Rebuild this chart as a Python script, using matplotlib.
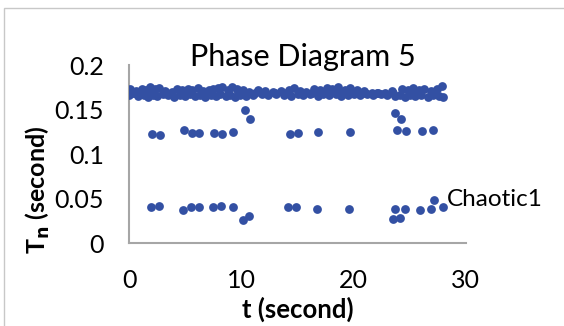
import matplotlib.pyplot as plt
from matplotlib.patches import Rectangle

# top band, upper edge
hi_t = [0.1, 0.6, 1.1, 1.5, 1.9, 2.3, 2.7, 3.2, 3.8, 4.3, 4.7, 5.2, 5.6, 6.1, 6.6, 7.1, 7.5,
        7.9, 8.3, 8.8, 9.2, 9.6, 10.1, 10.7, 11.5, 12.1, 12.8, 13.5, 14.2, 14.7, 15.2, 15.8,
        16.5, 17.0, 17.6, 18.1, 18.6, 19.2, 19.7, 20.3, 20.9, 22.1, 23.4, 24.3, 24.8, 25.3,
        25.8, 26.3, 26.9, 27.4, 27.9]
hi_T = [0.173, 0.171, 0.173, 0.172, 0.175, 0.173, 0.174, 0.171, 0.170, 0.173, 0.172, 0.173,
        0.172, 0.174, 0.171, 0.172, 0.173, 0.174, 0.175, 0.172, 0.175, 0.173, 0.172, 0.170,
        0.172, 0.171, 0.170, 0.171, 0.172, 0.174, 0.171, 0.170, 0.173, 0.172, 0.174, 0.173,
        0.175, 0.172, 0.174, 0.172, 0.171, 0.169, 0.171, 0.173, 0.172, 0.174, 0.172, 0.173,
        0.171, 0.173, 0.176]

# top band, lower edge
lo_t = [0.0, 0.3, 0.8, 1.3, 1.7, 2.1, 2.5, 3.0, 3.5, 4.0, 4.5, 5.0, 5.4, 5.9, 6.3, 6.8, 7.3,
        7.7, 8.1, 8.6, 9.0, 9.4, 9.9, 10.4, 11.0, 11.8, 12.4, 13.1, 13.8, 14.4, 15.0, 15.5,
        16.1, 16.8, 17.3, 17.8, 18.4, 18.9, 19.5, 20.0, 20.6, 21.2, 21.7, 22.4, 23.0, 23.7,
        24.1, 24.6, 25.0, 25.5, 26.0, 26.6, 27.1, 27.6, 28.0]
lo_T = [0.166, 0.168, 0.165, 0.166, 0.164, 0.166, 0.165, 0.167, 0.166, 0.164, 0.166, 0.165,
        0.167, 0.165, 0.166, 0.164, 0.166, 0.165, 0.167, 0.165, 0.166, 0.164, 0.166, 0.165,
        0.166, 0.167, 0.166, 0.167, 0.166, 0.165, 0.167, 0.166, 0.167, 0.165, 0.167, 0.166,
        0.167, 0.165, 0.166, 0.167, 0.166, 0.167, 0.166, 0.167, 0.166, 0.165, 0.166, 0.164,
        0.166, 0.165, 0.166, 0.164, 0.166, 0.165, 0.164]

# top band, in between
md_t = [0.5, 2.0, 4.8, 7.0, 9.7, 11.2, 12.0, 13.0, 14.0, 15.6, 16.3, 17.5, 18.8, 20.3, 21.0,
        21.6, 22.2, 22.8, 23.5, 25.6, 27.0]
md_T = [0.169, 0.170, 0.169, 0.169, 0.170, 0.168, 0.169, 0.168, 0.169, 0.168, 0.169, 0.169,
        0.168, 0.169, 0.168, 0.168, 0.168, 0.168, 0.168, 0.169, 0.169]

# middle points
mid_t = [2.07, 2.76, 4.9, 5.58, 6.26, 7.6, 8.28, 9.29, 10.3, 10.8, 14.34, 15.0, 16.86,
         19.68, 23.7, 24.2, 23.9, 24.67, 26.06, 27.07]
mid_T = [0.122, 0.1215, 0.1265, 0.1235, 0.1235, 0.1235, 0.122, 0.1245, 0.149, 0.139, 0.1224,
         0.1235, 0.1242, 0.1242, 0.146, 0.139, 0.127, 0.1253, 0.1258, 0.1265]

# bottom points
low_t = [1.93, 2.64, 4.78, 5.49, 6.2, 7.48, 8.16, 9.23, 10.18, 10.71, 14.19, 14.87, 16.74,
         19.56, 23.7, 23.5, 24.1, 24.58, 25.94, 26.92, 27.16, 27.93]
low_T = [0.0405, 0.042, 0.0375, 0.040, 0.0405, 0.040, 0.0417, 0.040, 0.0258, 0.0303, 0.040,
         0.040, 0.0378, 0.0378, 0.0378, 0.0265, 0.0276, 0.038, 0.037, 0.0378, 0.0485, 0.040]

t = hi_t + lo_t + md_t + mid_t + low_t
T = hi_T + lo_T + md_T + mid_T + low_T

plt.rcParams['font.family'] = ['Lato', 'DejaVu Sans']
fig = plt.figure(figsize=(5.64, 3.26), dpi=100)
ax = fig.add_axes([0.229, 0.2546, 0.597, 0.5460])

ax.scatter(t, T, s=40, color='#3350A3', zorder=3, linewidths=0)
ax.annotate('Chaotic1', (27.16, 0.0485), xytext=(9, 0), textcoords='offset points',
            fontsize=17.5, va='center', ha='left')

ax.set_xlim(0, 30)
ax.set_ylim(0, 0.2)
ax.set_xticks([0, 10, 20, 30])
ax.set_yticks([0, 0.05, 0.1, 0.15, 0.2])
ax.set_yticklabels(['0', '0.05', '0.1', '0.15', '0.2'])
ax.tick_params(length=0, labelsize=18)
ax.tick_params(axis='x', pad=19)
ax.tick_params(axis='y', pad=18)
for s in ['top', 'right']:
    ax.spines[s].set_visible(False)
for s in ['left', 'bottom']:
    ax.spines[s].set_color('#A6A6A6')
    ax.spines[s].set_linewidth(1.5)

ax.text(0.516, 1.045, 'Phase Diagram 5', transform=ax.transAxes, ha='center',
        va='center', fontsize=22)
ax.set_xlabel('t (second)', fontsize=18.5, fontweight='bold', va='center')
ax.xaxis.set_label_coords(0.5, -0.37)
ax.set_ylabel('T$_\\mathbf{n}$ (second)', fontsize=18, fontweight='bold', va='center')
ax.yaxis.set_label_coords(-0.27, 0.30)

fig.patches.append(Rectangle((4 / 564, -0.1), 1.2, 1.1 - 8 / 326, transform=fig.transFigure,
                             fill=False, edgecolor='#C8C8C8', linewidth=1))

fig.savefig('out.png', dpi=100)
